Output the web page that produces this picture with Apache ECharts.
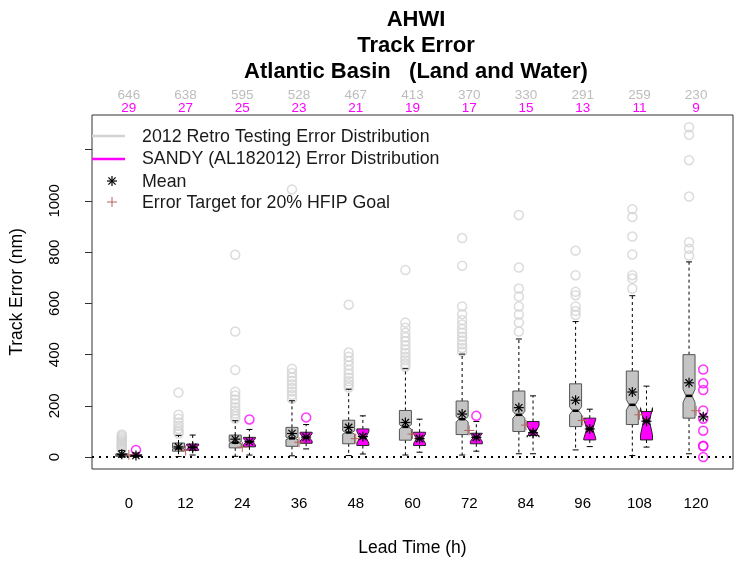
<!DOCTYPE html>
<html>
<head>
<meta charset="utf-8">
<script src="https://cdn.jsdelivr.net/npm/echarts@6/dist/echarts.min.js"></script>
<style>
  html, body { margin: 0; padding: 0; background: #fff; }
  #chart { width: 741px; height: 562px; }
</style>
</head>
<body>
<div id="chart"></div>
<script>
// Forecast lead times (h)
const leadTimes = [0, 12, 24, 36, 48, 60, 72, 84, 96, 108, 120];
// Sample sizes per lead time
const retroCounts = [646, 638, 595, 528, 467, 413, 370, 330, 291, 259, 230];
const sandyCounts = [29, 27, 25, 23, 21, 19, 17, 15, 13, 11, 9];

// Box statistics: [lower whisker, Q1, median, Q3, upper whisker]
const retroStats = [
  [0, 3, 7, 13, 26],
  [2, 23, 34, 55, 85],
  [3, 36, 56, 86, 142],
  [5, 42, 73, 116, 220],
  [6, 52, 96, 144, 265],
  [8, 66, 118, 182, 345],
  [8, 88, 148, 219, 402],
  [13, 100, 165, 258, 461],
  [28, 119, 181, 286, 529],
  [6, 127, 204, 336, 630],
  [13, 152, 239, 400, 762]
];
const retroMeans = [11, 40, 70, 92, 116, 135, 168, 193, 222, 254, 290];
const retroOutliers = [
  [30, 34, 38, 42, 46, 50, 55, 60, 65, 70, 76, 82, 88],
  [92, 100, 110, 122, 135, 150, 165, 252],
  [150, 160, 170, 182, 195, 210, 225, 240, 255, 340, 490, 790],
  [228, 242, 256, 270, 284, 298, 312, 328, 345, 1045],
  [272, 284, 296, 310, 325, 340, 358, 375, 392, 408, 595],
  [352, 365, 378, 392, 406, 420, 436, 452, 468, 485, 505, 525, 730],
  [412, 426, 440, 455, 470, 485, 500, 518, 535, 558, 588, 747, 855],
  [490, 525, 557, 588, 627, 658, 740, 945],
  [555, 570, 588, 632, 645, 710, 806],
  [658, 697, 710, 791, 861, 937, 968],
  [787, 813, 839, 1017, 1159, 1258, 1288]
];

// SANDY: fewer than 10 cases at 120 h, so those are drawn as individual points
const sandyStats = [
  [0, 2, 5, 9, 16],
  [8, 26, 38, 51, 86],
  [8, 40, 60, 77, 108],
  [32, 54, 77, 97, 127],
  [12, 45, 77, 110, 161],
  [19, 45, 72, 97, 148],
  [23, 52, 77, 93, 139],
  [13, 84, 100, 139, 239],
  [41, 67, 110, 152, 187],
  [39, 67, 140, 178, 277],
  null
];
const sandyMeans = [6, 38, 60, 78, 80, 72, 77, 95, 110, 140, 157];
const sandyOutliers = [
  [28], [], [147], [155], [], [], [161], [], [], [],
  [342, 288, 262, 182, 150, 103, 44, 42, 0]
];

// Error target for the 20% HFIP goal
const hfipTargets = [9, 26, 39, 58, 72, 90, 104, 125, 143, 165, 181];

// Axis ticks
const yTickValues = [0, 200, 400, 600, 800, 1000, 1200];
const yLabelValues = [0, 200, 400, 600, 800, 1000];

const FONT = 'Liberation Sans, Arial, Helvetica, sans-serif';
const RETRO_FILL = '#c4c4c4';
const RETRO_EDGE = '#555555';
const RETRO_PT = '#d3d3d3';
const SANDY = '#ff00ff';
const TARGET = '#b8645e';
const SHIFT = 1.5;       // horizontal offset of each pair of boxes (hours)
const HALF_W = 6;        // half box width (px)

function boxRenderer(shift, fill, edge) {
  return function (params, api) {
    const t = api.value(0);
    const lo = api.value(1), q1 = api.value(2), md = api.value(3),
          q3 = api.value(4), hi = api.value(5), n = api.value(6);
    const cx = api.coord([t + shift, 0])[0];
    const Y = v => api.coord([t, v])[1];
    const w = HALF_W, nf = 0.5;
    const notch = 1.58 * (q3 - q1) / Math.sqrt(n);
    const pts = [
      [cx - w, Y(q1)], [cx + w, Y(q1)], [cx + w, Y(md - notch)], [cx + w * nf, Y(md)],
      [cx + w, Y(md + notch)], [cx + w, Y(q3)], [cx - w, Y(q3)], [cx - w, Y(md + notch)],
      [cx - w * nf, Y(md)], [cx - w, Y(md - notch)]
    ];
    const dash = { stroke: '#000', lineWidth: 1, lineDash: [3, 3], fill: null };
    const solid = { stroke: '#000', lineWidth: 1, fill: null };
    return {
      type: 'group',
      children: [
        { type: 'line', shape: { x1: cx, y1: Y(q1), x2: cx, y2: Y(lo) }, style: dash },
        { type: 'line', shape: { x1: cx, y1: Y(q3), x2: cx, y2: Y(hi) }, style: dash },
        { type: 'line', shape: { x1: cx - w * 0.5, y1: Y(lo), x2: cx + w * 0.5, y2: Y(lo) }, style: solid },
        { type: 'line', shape: { x1: cx - w * 0.5, y1: Y(hi), x2: cx + w * 0.5, y2: Y(hi) }, style: solid },
        { type: 'polygon', shape: { points: pts }, style: { fill: fill, stroke: edge, lineWidth: 1 } },
        { type: 'line', shape: { x1: cx - w * nf, y1: Y(md), x2: cx + w * nf, y2: Y(md) },
          style: { stroke: '#000', lineWidth: 2.5 } }
      ]
    };
  };
}

function starLines(cx, cy, r, color, lw) {
  const d = r * 0.72;
  const st = { stroke: color, lineWidth: lw };
  return [
    { type: 'line', shape: { x1: cx - r, y1: cy, x2: cx + r, y2: cy }, style: st },
    { type: 'line', shape: { x1: cx, y1: cy - r, x2: cx, y2: cy + r }, style: st },
    { type: 'line', shape: { x1: cx - d, y1: cy - d, x2: cx + d, y2: cy + d }, style: st },
    { type: 'line', shape: { x1: cx - d, y1: cy + d, x2: cx + d, y2: cy - d }, style: st }
  ];
}

function plusLines(cx, cy, r, color, lw) {
  const st = { stroke: color, lineWidth: lw };
  return [
    { type: 'line', shape: { x1: cx - r, y1: cy, x2: cx + r, y2: cy }, style: st },
    { type: 'line', shape: { x1: cx, y1: cy - r, x2: cx, y2: cy + r }, style: st }
  ];
}

function markRenderer(shift, kind) {
  return function (params, api) {
    const p = api.coord([api.value(0) + shift, api.value(1)]);
    const children = kind === 'star'
      ? starLines(p[0], p[1], 5, '#000', 1.2)
      : plusLines(p[0], p[1], 5, TARGET, 1);
    return { type: 'group', children: children };
  };
}

const retroBoxData = leadTimes.map((t, i) => [t].concat(retroStats[i], [retroCounts[i]]));
const sandyBoxData = [];
leadTimes.forEach((t, i) => {
  if (sandyStats[i]) sandyBoxData.push([t].concat(sandyStats[i], [sandyCounts[i]]));
});
const retroPts = [];
retroOutliers.forEach((arr, i) => arr.forEach(v => retroPts.push([leadTimes[i] - SHIFT, v])));
const sandyPts = [];
sandyOutliers.forEach((arr, i) => arr.forEach(v => sandyPts.push([leadTimes[i] + SHIFT, v])));

const chart = echarts.init(document.getElementById('chart'), null, { renderer: 'canvas' });

const countOf = v => {
  const i = leadTimes.indexOf(Math.round(v));
  return i < 0 ? '' : '{g|' + retroCounts[i] + '}\n{m|' + sandyCounts[i] + '}';
};

const legendText = (y, s) => ({
  type: 'text', x: 142, y: y,
  style: { text: s, font: '17.8px ' + FONT, fill: '#1a1a1a', verticalAlign: 'middle' }
});

chart.setOption({
  animation: false,
  backgroundColor: '#ffffff',
  textStyle: { fontFamily: FONT },
  title: {
    text: 'AHWI\nTrack Error\nAtlantic Basin   (Land and Water)',
    left: 411,
    top: 2,
    textAlign: 'center',
    textStyle: { fontFamily: FONT, fontSize: 22, fontWeight: 'bold', color: '#000', lineHeight: 26 }
  },
  grid: {
    left: 89, right: 8, top: 115, bottom: 90,
    show: true, borderColor: '#333', borderWidth: 1, backgroundColor: 'transparent'
  },
  xAxis: [
    {
      type: 'value', min: -7.8, max: 127.8,
      name: 'Lead Time (h)', nameLocation: 'middle', nameGap: 70,
      nameTextStyle: { fontSize: 17.5, color: '#000', fontFamily: FONT },
      axisLine: { show: false, onZero: false },
      axisTick: { show: false },
      splitLine: { show: false },
      axisLabel: { customValues: leadTimes, fontSize: 15, color: '#000', margin: 27, fontFamily: FONT }
    },
    {
      type: 'value', min: -7.8, max: 127.8, position: 'top',
      axisLine: { show: false, onZero: false },
      axisTick: { show: false },
      splitLine: { show: false },
      axisLabel: {
        customValues: leadTimes, margin: 0,
        formatter: countOf,
        rich: {
          g: { fontSize: 13.5, color: '#bdbdbd', lineHeight: 13, fontFamily: FONT },
          m: { fontSize: 13.5, color: SANDY, lineHeight: 13, fontFamily: FONT }
        }
      }
    }
  ],
  yAxis: {
    type: 'value', min: -46.5, max: 1335.5,
    name: 'Track Error (nm)', nameLocation: 'middle', nameGap: 66,
    nameTextStyle: { fontSize: 17.5, color: '#000', fontFamily: FONT },
    axisLine: { show: false, onZero: false },
    splitLine: { show: false },
    axisTick: { show: true, customValues: yTickValues, length: 7, lineStyle: { color: '#333' } },
    axisLabel: {
      customValues: yLabelValues, rotate: 90, fontSize: 15, color: '#000', margin: 30,
      fontFamily: FONT, formatter: v => String(v)
    }
  },
  series: [
    {
      type: 'scatter', name: 'retroOutliers', xAxisIndex: 0,
      data: retroPts, symbol: 'circle', symbolSize: 9,
      itemStyle: { color: 'transparent', borderColor: RETRO_PT, borderWidth: 1.5 },
      z: 2,
      markLine: {
        silent: true, symbol: 'none', label: { show: false },
        lineStyle: { color: '#000', width: 2, type: [2, 5] },
        data: [{ yAxis: 0 }]
      }
    },
    {
      type: 'custom', name: 'retroBoxes', xAxisIndex: 0,
      renderItem: boxRenderer(-SHIFT, RETRO_FILL, RETRO_EDGE),
      encode: { x: 0, y: 3 }, data: retroBoxData, z: 3
    },
    {
      type: 'custom', name: 'sandyBoxes', xAxisIndex: 0,
      renderItem: boxRenderer(SHIFT, SANDY, '#222'),
      encode: { x: 0, y: 3 }, data: sandyBoxData, z: 3
    },
    {
      type: 'scatter', name: 'sandyOutliers', xAxisIndex: 0,
      data: sandyPts, symbol: 'circle', symbolSize: 9,
      itemStyle: { color: 'transparent', borderColor: SANDY, borderWidth: 1.5 },
      z: 4
    },
    {
      type: 'custom', name: 'targets', xAxisIndex: 0,
      renderItem: markRenderer(0, 'plus'),
      encode: { x: 0, y: 1 }, data: leadTimes.map((t, i) => [t, hfipTargets[i]]), z: 5
    },
    {
      type: 'custom', name: 'retroMeans', xAxisIndex: 0,
      renderItem: markRenderer(-SHIFT, 'star'),
      encode: { x: 0, y: 1 }, data: leadTimes.map((t, i) => [t, retroMeans[i]]), z: 6
    },
    {
      type: 'custom', name: 'sandyMeans', xAxisIndex: 0,
      renderItem: markRenderer(SHIFT, 'star'),
      encode: { x: 0, y: 1 }, data: leadTimes.map((t, i) => [t, sandyMeans[i]]), z: 6
    }
  ],
  graphic: [
    { type: 'line', silent: true, z: 10, shape: { x1: 92, y1: 136, x2: 125, y2: 136 }, style: { stroke: RETRO_PT, lineWidth: 2.5 } },
    { type: 'line', silent: true, z: 10, shape: { x1: 92, y1: 159, x2: 125, y2: 159 }, style: { stroke: SANDY, lineWidth: 2.5 } },
    { type: 'group', silent: true, z: 10, children: starLines(112, 181, 5, '#000', 1.2) },
    { type: 'group', silent: true, z: 10, children: plusLines(112, 202, 5, TARGET, 1) },
    legendText(137, '2012 Retro Testing Error Distribution'),
    legendText(159.5, 'SANDY (AL182012) Error Distribution'),
    legendText(182, 'Mean'),
    legendText(203, 'Error Target for 20% HFIP Goal')
  ]
});
</script>
</body>
</html>
